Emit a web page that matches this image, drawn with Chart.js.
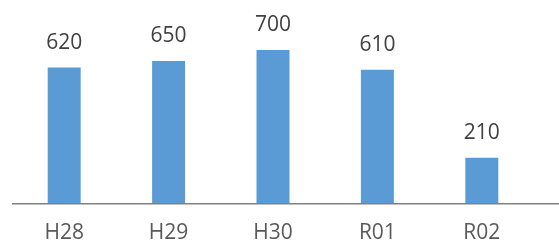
<!DOCTYPE html>
<html>
<head>
<meta charset="utf-8">
<script src="https://cdn.jsdelivr.net/npm/chart.js@4"></script>
<style>
  html, body { margin: 0; padding: 0; background: #fff; }
  #wrap { width: 559px; height: 242px; }
</style>
</head>
<body>
<div id="wrap"><canvas id="chart"></canvas></div>
<script>
const categories = ["H28", "H29", "H30", "R01", "R02"];
const values = [620, 650, 700, 610, 210];

// 棒の上に値を描く
const valueLabels = {
  id: "valueLabels",
  afterDatasetsDraw(chart) {
    const ctx = chart.ctx;
    ctx.save();
    ctx.font = "21px 'Open Sans'";
    ctx.fillStyle = "#404040";
    ctx.textAlign = "center";
    ctx.textBaseline = "alphabetic";
    chart.getDatasetMeta(0).data.forEach((bar, i) => {
      ctx.fillText(values[i], bar.x, bar.y - 19);
    });
    ctx.restore();
  }
};

// 横軸の線（右端まで伸ばす）
const baseLine = {
  id: "baseLine",
  afterDatasetsDraw(chart) {
    const ctx = chart.ctx;
    const y = chart.scales.y.getPixelForValue(0);
    ctx.save();
    ctx.strokeStyle = "#808080";
    ctx.lineWidth = 1.5;
    ctx.beginPath();
    ctx.moveTo(12, y);
    ctx.lineTo(chart.width, y);
    ctx.stroke();
    ctx.restore();
  }
};

new Chart(document.getElementById("chart"), {
  type: "bar",
  data: {
    labels: categories,
    datasets: [{ data: values, backgroundColor: "#5B9BD5", categoryPercentage: 1, barPercentage: 0.316 }]
  },
  options: {
    responsive: true, maintainAspectRatio: false, animation: false,
    layout: { padding: { left: 12, right: 25, top: 28, bottom: -13 } },
    plugins: { legend: { display: false }, tooltip: { enabled: false } },
    scales: {
      x: {
        grid: { display: false },
        border: { display: false },
        ticks: { color: "#595959", font: { family: "'Open Sans'", size: 21 }, padding: 9 }
      },
      y: { display: false, min: 0, max: 800 }
    }
  },
  plugins: [valueLabels, baseLine]
});
</script>
</body>
</html>
